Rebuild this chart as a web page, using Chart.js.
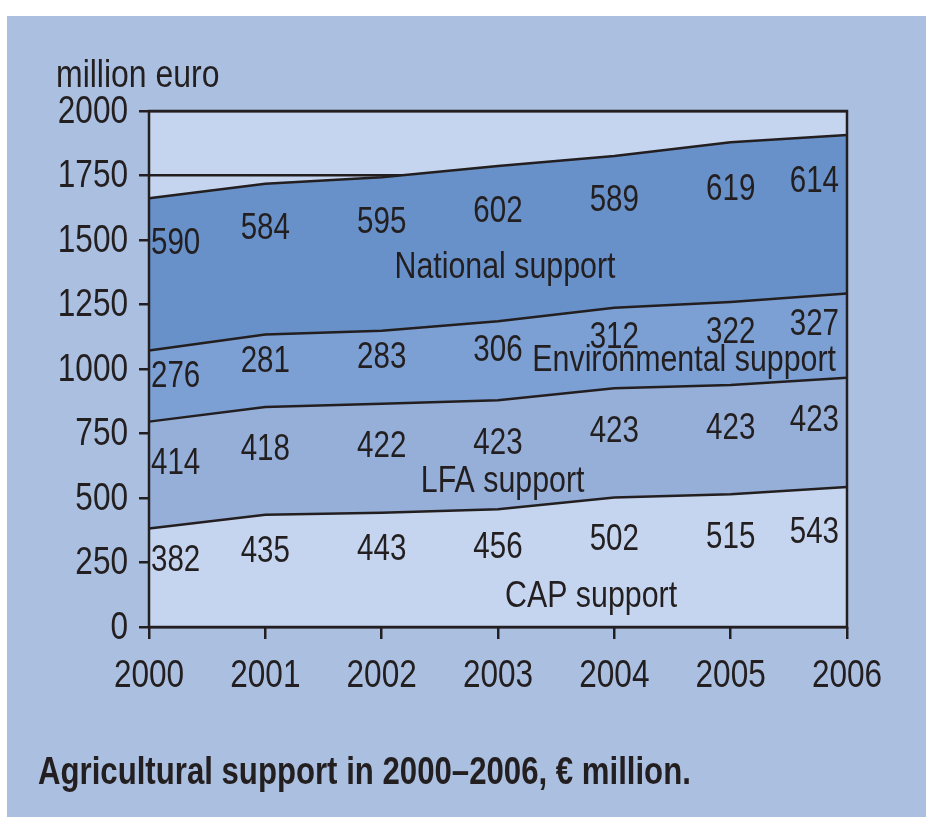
<!DOCTYPE html>
<html>
<head>
<meta charset="utf-8">
<script src="https://cdn.jsdelivr.net/npm/chart.js@4.4.1/dist/chart.umd.min.js"></script>
<style>
  html, body { margin: 0; padding: 0; background: #fff; }
  #wrap { position: absolute; left: 0; top: 0; width: 926px; height: 819px; }
</style>
</head>
<body>
<div id="wrap"><canvas id="supportChart" width="926" height="819"></canvas></div>
<script>
// data (€ million)
const years = ["2000", "2001", "2002", "2003", "2004", "2005", "2006"];
const capSupport = [382, 435, 443, 456, 502, 515, 543];
const lfaSupport = [414, 418, 422, 423, 423, 423, 423];
const envSupport = [276, 281, 283, 306, 312, 322, 327];
const nationalSupport = [590, 584, 595, 602, 589, 619, 614];
const yTicks = [0, 250, 500, 750, 1000, 1250, 1500, 1750, 2000];

const FONT = "'Liberation Sans', Arial, sans-serif";
const NARROW = 0.82; // squeeze like a condensed face
const INK = "#231f20";

// where the value labels sit inside each band (share of band height)
const labelFrac = [0.67, 0.6, 0.62, 0.7];
// series name labels: x as year index, y in euro
const nameLabels = [
  { text: "CAP support", x: 3.8, y: 116 },
  { text: "LFA support", x: 3.04, y: 562 },
  { text: "Environmental support", x: 4.6, y: 1031 },
  { text: "National support", x: 3.06, y: 1391 },
];

function band(label, values, color, fill) {
  return {
    label: label,
    data: values,
    backgroundColor: color,
    borderColor: INK,
    borderWidth: 2.5,
    pointRadius: 0,
    tension: 0,
    fill: fill,
  };
}

function text(c, s, x, y, align, size, bold) {
  c.save();
  c.translate(x, y);
  c.scale(NARROW, 1);
  c.font = (bold ? "bold " : "") + size + "px " + FONT;
  c.textAlign = align;
  c.fillText(s, 0, 0);
  c.restore();
}

const decor = {
  id: "decor",
  beforeDraw(chart) {
    const c = chart.ctx, a = chart.chartArea;
    c.save();
    c.fillStyle = "#abbfe0";
    c.fillRect(7, 16, 919, 801);
    c.fillStyle = "#c6d5ef";
    c.fillRect(a.left, a.top, a.right - a.left, a.bottom - a.top);
    c.restore();
  },
  afterDatasetsDraw(chart) {
    const c = chart.ctx, a = chart.chartArea;
    const xs = chart.scales.x, ys = chart.scales.y;
    c.save();
    c.strokeStyle = INK;
    c.lineWidth = 2.5;
    c.strokeRect(a.left, a.top, a.right - a.left, a.bottom - a.top);

    c.fillStyle = INK;
    c.textBaseline = "middle";

    // axis tick labels
    yTicks.forEach(v => text(c, String(v), 128, ys.getPixelForValue(v) + 1, "right", 38.5));
    years.forEach((y, j) => text(c, y, xs.getPixelForValue(j), 676, "center", 38.5));

    // value labels inside the bands
    const n = years.length;
    const base = new Array(n).fill(0);
    chart.data.datasets.forEach((ds, i) => {
      ds.data.forEach((v, j) => {
        const px = xs.getPixelForValue(j);
        const py = ys.getPixelForValue(base[j] + labelFrac[i] * v);
        if (j === 0) text(c, String(v), px + 2, py, "left", 36);
        else if (j === n - 1) text(c, String(v), px - 8, py, "right", 36);
        else text(c, String(v), px, py, "center", 36);
        base[j] += v;
      });
    });

    nameLabels.forEach(l => {
      text(c, l.text, xs.getPixelForValue(l.x), ys.getPixelForValue(l.y), "center", 37);
    });

    text(c, "million euro", 56, 76, "left", 39);
    c.textBaseline = "alphabetic";
    text(c, "Agricultural support in 2000\u20132006, \u20ac million.", 38, 784, "left", 38, true);
    c.restore();
  },
};

const ctx = document.getElementById("supportChart").getContext("2d");
new Chart(ctx, {
  type: "line",
  data: {
    labels: years,
    datasets: [
      band("CAP support", capSupport, "#c6d5ef", "origin"),
      band("LFA support", lfaSupport, "#95afd9", "-1"),
      band("Environmental support", envSupport, "#7ca0d4", "-1"),
      band("National support", nationalSupport, "#6891c9", "-1"),
    ],
  },
  options: {
    responsive: false,
    animation: false,
    layout: { autoPadding: false, padding: { left: 0, top: 111, right: 79, bottom: 110 } },
    plugins: { legend: { display: false }, tooltip: { enabled: false }, title: { display: false } },
    scales: {
      x: {
        offset: false,
        grid: { drawOnChartArea: false, drawTicks: true, tickLength: 12, color: INK, lineWidth: 2.5 },
        border: { display: false },
        ticks: { display: false, autoSkip: false },
        afterFit(s) { s.height = 82; },
      },
      y: {
        stacked: true,
        min: 0,
        max: 2000,
        afterBuildTicks(s) { s.ticks = yTicks.map(v => ({ value: v })); },
        grid: { color: INK, lineWidth: 2.5, drawTicks: true, tickLength: 10 },
        border: { display: false },
        ticks: { display: false },
        afterFit(s) { s.width = 149; },
      },
    },
  },
  plugins: [decor],
});
</script>
</body>
</html>
